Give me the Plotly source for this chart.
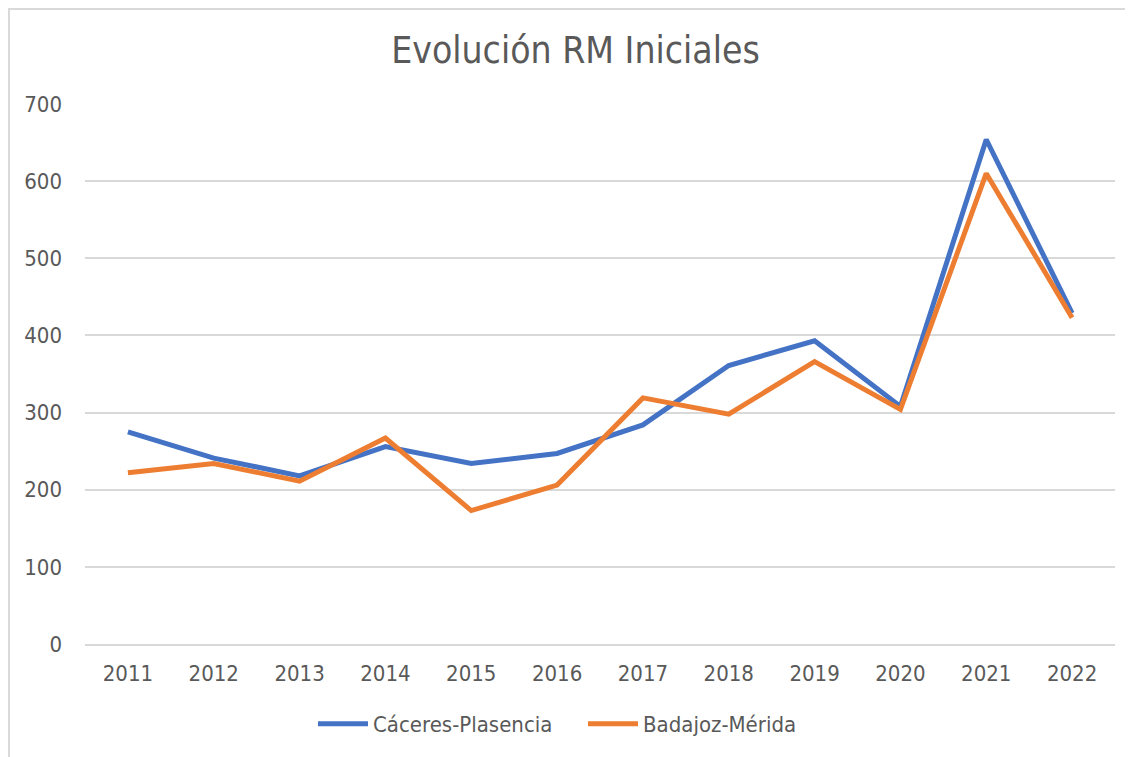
import plotly.graph_objects as go

years = ["2011", "2012", "2013", "2014", "2015", "2016", "2017", "2018", "2019", "2020", "2021", "2022"]
caceres = [275, 241, 218, 256, 234, 247, 284, 361, 393, 308, 654, 429]
badajoz = [222, 234, 211, 267, 173, 206, 319, 298, 366, 304, 610, 423]
y_ticks = [0, 100, 200, 300, 400, 500, 600, 700]

FONT = "DejaVu Sans Condensed, DejaVu Sans, sans-serif"
TXT = "#595959"
GRID = "#D9D9D9"

fig = go.Figure()
fig.add_trace(go.Scatter(x=years, y=caceres, mode="lines", name="Cáceres-Plasencia",
                         line=dict(color="#4472C4", width=5)))
fig.add_trace(go.Scatter(x=years, y=badajoz, mode="lines", name="Badajoz-Mérida",
                         line=dict(color="#ED7D31", width=5)))

# the page body adds an 8px offset; figure coordinates are page - 8
W, H = 1125, 749
L, R, T, B = 77, 18, 96, 113
pw, ph = W - L - R, H - T - B

def px(x):
    return (x - L) / pw

def py(y):
    return (H - B - y) / ph

fig.add_shape(type="rect", xref="paper", yref="paper",
              x0=px(1), x1=px(W + 10), y0=py(1), y1=py(H + 10),
              line=dict(color=GRID, width=2), fillcolor="rgba(0,0,0,0)", layer="below")

fig.update_layout(
    width=W, height=H,
    margin=dict(l=L, r=R, t=T, b=B),
    paper_bgcolor="white", plot_bgcolor="white",
    font=dict(family=FONT, color=TXT, size=22),
    title=dict(text="Evolución RM Iniciales", font=dict(size=37, color=TXT, family=FONT),
               x=567.5 / W, xref="container", xanchor="center",
               y=1 - 42 / H, yref="container", yanchor="middle"),
    legend=dict(orientation="h", xref="container", x=305 / W, xanchor="left",
                yref="container", y=1 - 716 / H, yanchor="middle",
                font=dict(size=22, color=TXT, family=FONT), itemwidth=50,
                entrywidth=205, entrywidthmode="pixels",
                bgcolor="rgba(0,0,0,0)"),
    showlegend=True,
)
fig.update_xaxes(type="category", range=[-0.5, 11.5], showgrid=False, showline=True,
                 linecolor=GRID, linewidth=2, ticks="", ticklabelstandoff=9,
                 tickfont=dict(size=22, color=TXT, family=FONT), fixedrange=True)
fig.update_yaxes(range=[0, 700], tickvals=y_ticks, showgrid=True, gridcolor=GRID, gridwidth=2,
                 zeroline=False, showline=False, ticks="", ticklabelstandoff=22,
                 tickfont=dict(size=22, color=TXT, family=FONT), fixedrange=True)

fig.write_html("out.html")
